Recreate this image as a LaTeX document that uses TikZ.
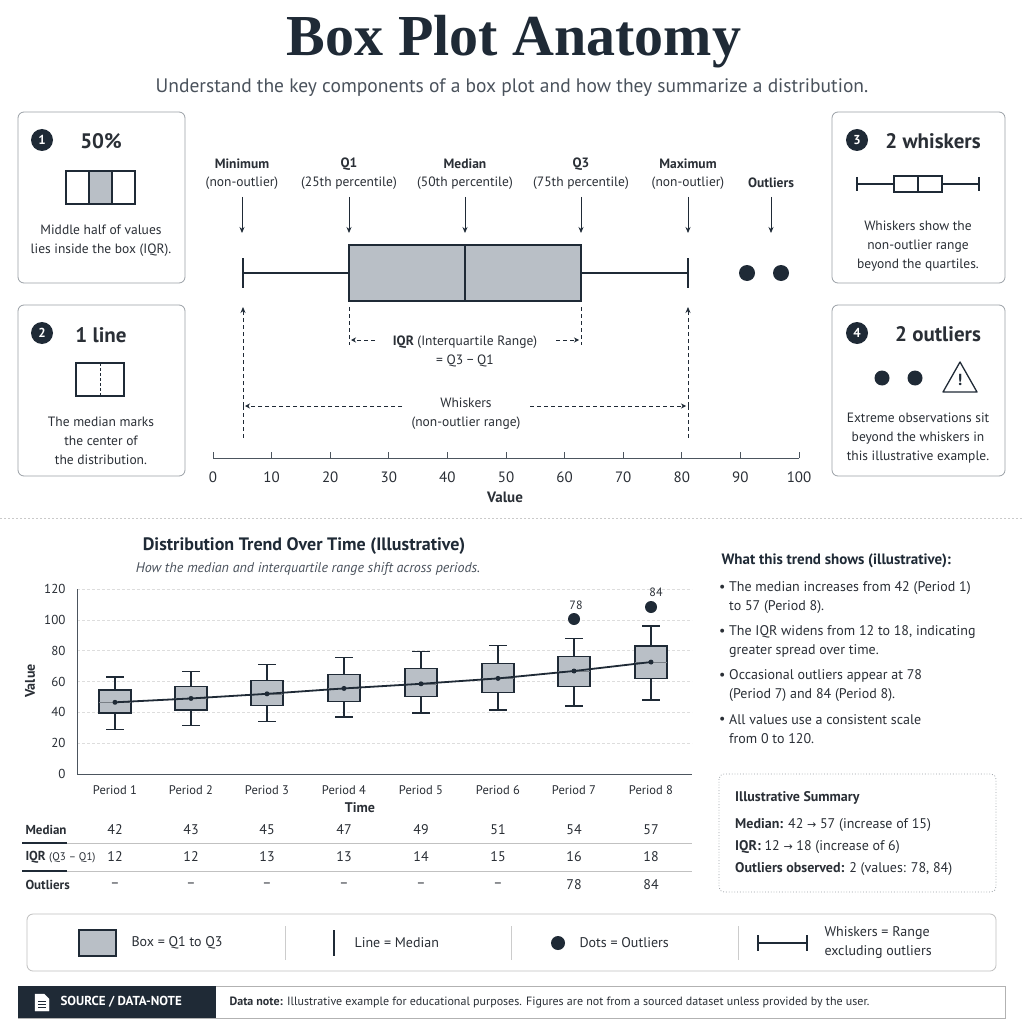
\documentclass[tikz,border=0pt]{standalone}
\usepackage{fontspec}
\setmainfont{PT Sans}
\newfontfamily\titlefont{Liberation Serif}
\newfontfamily\symfont{DejaVu Sans}
\usetikzlibrary{arrows.meta,calc}
\definecolor{navy}{HTML}{1F2A36}
\definecolor{boxg}{HTML}{B9BFC6}
\definecolor{cardb}{HTML}{9AA0A6}
\definecolor{txt}{HTML}{2A2F36}
\definecolor{subt}{HTML}{4A525C}
\definecolor{gridc}{HTML}{DDDDDD}
\newcommand{\fsz}[1]{\fontsize{#1}{#1}\selectfont}
\tikzset{
  card/.style={draw=cardb, rounded corners=6pt, line width=0.8pt},
  numc/.style={circle, fill=navy, text=white, font=\fsz{13}\bfseries, minimum size=22pt, inner sep=0pt},
  lbl/.style={font=\fontsize{13.5}{19}\selectfont, text=txt, align=center, inner sep=1pt},
  blbl/.style={font=\fsz{13.5}\bfseries, text=txt, align=center, inner sep=1pt},
  dk/.style={draw=navy, line width=1.8pt},
  darr/.style={navy, line width=0.8pt, -{Stealth[length=6pt,width=5pt]}},
  dashln/.style={navy, line width=0.8pt, dash pattern=on 4pt off 3pt},
  bpbox/.style={draw=navy, fill=boxg, line width=1.5pt},
}
\begin{document}
\begin{tikzpicture}[x=1pt,y=-1pt]
\useasboundingbox (0,0) rectangle (1024,1024);
\fill[white] (0,0) rectangle (1024,1024);
% title
\node[font=\titlefont\fsz{58}\bfseries, text=navy] (title) at (514,42) {Box Plot Anatomy};
\node[font=\fsz{19.5}, text=subt] (sub) at (512,88) {Understand the key components of a box plot and how they summarize a distribution.};
% cards
\draw[card] (18,112) rectangle (185,283);
\draw[card] (18,305) rectangle (185,476);
\draw[card] (832,112) rectangle (1005,283);
\draw[card] (832,305) rectangle (1005,476);
\node[numc] (n1) at (42,140) {1};
\node[font=\fsz{21}\bfseries, text=txt] (h1) at (101,141) {50\%};
\draw[navy, line width=1.2pt] (66,171) rectangle (135,204);
\draw[navy, line width=1.2pt, fill=boxg] (89,171) rectangle (112,204);
\node[lbl] (t1) at (101,241) {Middle half of values\\lies inside the box (IQR).};
\node[numc] (n2) at (42,333) {2};
\node[font=\fsz{21}\bfseries, text=txt] (h2) at (101,335) {1 line};
\draw[navy, line width=1.2pt] (76,363) rectangle (124,396);
\draw[navy, line width=1pt, dash pattern=on 3pt off 2pt] (100,363) -- (100,396);
\node[lbl] (t2) at (101,441) {The median marks\\the center of\\the distribution.};
\node[numc] (n3) at (857,140) {3};
\node[font=\fsz{21}\bfseries, text=txt] (h3) at (933,141) {2 whiskers};
\draw[navy, line width=1.3pt] (857,184) -- (894,184) (942,184) -- (979,184) (857,177) -- (857,191) (979,177) -- (979,191);
\draw[navy, line width=1.3pt] (894,176) rectangle (942,192) (918,176) -- (918,192);
\node[lbl] (t3) at (918,246) {Whiskers show the\\non-outlier range\\beyond the quartiles.};
\node[numc] (n4) at (857,333) {4};
\node[font=\fsz{21}\bfseries, text=txt] (h4) at (938,334) {2 outliers};
\fill[navy] (882,378) circle (7.5) (915,378) circle (7.5);
\draw[navy, line width=1.3pt, line join=round] (960,362) -- (977,392) -- (943,392) -- cycle;
\node[font=\fsz{16}\bfseries, text=navy] (warn) at (960,380) {!};
\node[lbl] (t4) at (918,438) {Extreme observations sit\\beyond the whiskers in\\this illustrative example.};
% main box plot
\foreach \x/\a/\b/\nm in {242/Minimum/(non-outlier)/mn, 349/Q1/(25th percentile)/q1, 465/Median/(50th percentile)/md, 581/Q3/(75th percentile)/q3, 688/Maximum/(non-outlier)/mx}{
  \node[blbl] (\nm h) at (\x,164) {\a};
  \node[lbl] (\nm s) at (\x,183) {\b};
  \coordinate (\nm a) at (\x,197); \coordinate (\nm b) at (\x,233);
  \draw[darr] (\nm a) -- (\nm b);
}
\node[blbl] (outh) at (771,183) {Outliers};
\coordinate (outa) at (771,197); \coordinate (outb) at (771,233);
\draw[darr] (outa) -- (outb);
\draw[dk] (243,273) -- (349,273) (581,273) -- (688,273) (243,258) -- (243,288) (688,258) -- (688,288);
\draw[bpbox] (349,245) rectangle (581,301);
\draw[dk] (465,245) -- (465,301);
\fill[navy] (747,273) circle (8) (781,273) circle (8);
% dashed annotations
\draw[dashln] (243,406) -- (243,440) (688,406) -- (688,440);
\draw[dashln, -{Stealth[length=6pt,width=5pt]}] (243,406) -- (243,307);
\draw[dashln, -{Stealth[length=6pt,width=5pt]}] (688,406) -- (688,307);
\draw[dashln] (349,307) -- (349,345) (581,307) -- (581,345);
\draw[dashln, -{Stealth[length=5pt,width=5pt]}] (375,340) -- (351,340);
\draw[dashln, -{Stealth[length=5pt,width=5pt]}] (556,340) -- (579,340);
\node[lbl] (iqr) at (465,351) {\textbf{IQR} (Interquartile Range)\\= Q3 − Q1};
\draw[dashln, -{Stealth[length=5pt,width=5pt]}] (402,406) -- (245,406);
\draw[dashln, -{Stealth[length=5pt,width=5pt]}] (530,406) -- (686,406);
\node[lbl] (wh) at (466,414) {Whiskers\\(non-outlier range)};
% axis
\draw[navy!80, line width=0.8pt] (213,458) -- (799,458);
\foreach \v in {0,10,...,100}{
  \draw[navy!80, line width=0.8pt] ({213+5.86*\v},458) -- ({213+5.86*\v},452);
  \node[font=\fsz{15}, text=txt] at ({213+5.86*\v},477) {\v};
}
\node[font=\fsz{15}\bfseries, text=txt] (valx) at (505,497) {Value};
% separator
\draw[gridc!80!gray, line width=0.8pt, dash pattern=on 2pt off 2pt] (0,518) -- (1024,518);
% chart
\node[font=\fsz{18}\bfseries, text=navy] (ct) at (304,546) {Distribution Trend Over Time (Illustrative)};
\node[font=\fsz{14}\itshape, text=subt] (cs) at (308,569) {How the median and interquartile range shift across periods.};
\foreach \v in {20,40,...,120}{
  \draw[gridc, line width=0.6pt, dash pattern=on 3pt off 2pt] (77,{774-1.542*\v}) -- (692,{774-1.542*\v});
}
\foreach \v in {0,20,...,120}{
  \node[font=\fsz{13}, text=txt, anchor=east] at (69,{774-1.542*\v}) {\v};
}
\draw[navy!80, line width=0.9pt] (77,589) -- (77,774) -- (692,774);
\node[font=\fsz{14}\bfseries, text=txt, rotate=90] (yl) at (30,681) {Value};
\node[font=\fsz{14}\bfseries, text=txt] (xl) at (360,808) {Time};
\foreach \i/\x/\wl/\qa/\md/\qb/\wh in {1/115/29/39.5/46.5/54.5/63, 2/191/31.5/41.5/49/57/66.5, 3/267/34/44.5/52/60.5/71, 4/344/37/47/55.5/64.5/75.5, 5/421/39.5/50.5/58.5/68.5/79.5, 6/498/41.5/53/62/71.5/83.5, 7/574/44/57/66.8/76/88, 8/651/48/62/72.6/83/96}{
  \draw[navy, line width=1.4pt] (\x,{774-1.542*\wl}) -- (\x,{774-1.542*\wh});
  \draw[navy, line width=1.4pt] (\x-9,{774-1.542*\wl}) -- (\x+9,{774-1.542*\wl}) (\x-9,{774-1.542*\wh}) -- (\x+9,{774-1.542*\wh});
  \draw[navy, fill=boxg, line width=1.2pt] (\x-16,{774-1.542*\qa}) rectangle (\x+16,{774-1.542*\qb});
  \coordinate (m\i) at (\x,{774-1.542*\md});
  \draw[navy!60, line width=0.6pt] (\x-16,{774-1.542*\md}) -- (\x+16,{774-1.542*\md});
  \node[font=\fsz{12.5}, text=txt] (p\i) at (\x,790) {Period \i};
}
\draw[navy, line width=1.8pt] (m1) -- (m2) -- (m3) -- (m4) -- (m5) -- (m6) -- (m7) -- (m8);
\foreach \i in {1,...,8} \fill[navy] (m\i) circle (2.5);
\fill[navy] (574,619) circle (6) (651,607) circle (6);
\node[font=\fsz{12}, text=txt] (o7) at (576,605) {78};
\node[font=\fsz{12}, text=txt] (o8) at (656,592) {84};
% table
\node[font=\fsz{13}\bfseries, text=txt, anchor=west] at (22,830) {Median};
\node[font=\fsz{13}, text=txt, anchor=west] at (22,857) {\textbf{IQR} {\fsz{11}(Q3 – Q1)}};
\node[font=\fsz{13}\bfseries, text=txt, anchor=west] at (22,885) {Outliers};
\draw[gridc!70!gray, line width=1pt] (22,843) -- (692,843) (22,871) -- (692,871);
\draw[navy, line width=1.2pt] (22,843) -- (67,843) (22,871) -- (67,871);
\foreach \x/\a/\b/\c in {115/42/12/–, 191/43/12/–, 267/45/13/–, 344/47/13/–, 421/49/14/–, 498/51/15/–, 574/54/16/78, 651/57/18/84}{
  \node[font=\fsz{14}, text=txt] at (\x,830) {\a};
  \node[font=\fsz{14}, text=txt] at (\x,857) {\b};
  \node[font=\fsz{14}, text=txt] at (\x,885) {\c};
}
% right text
\node[font=\fsz{15}\bfseries, text=navy, anchor=west] (wt) at (718,561) {What this trend shows (illustrative):};
\foreach \y/\a/\b in {588/The median increases from 42 (Period 1)/to 57 (Period 8)., 632/The IQR widens from 12 to 18{,} indicating/greater spread over time., 676/Occasional outliers appear at 78/(Period 7) and 84 (Period 8)., 720/All values use a consistent scale/from 0 to 120.}{
  \node[font=\fsz{14}, text=txt, anchor=west, inner sep=0] at (719,\y) {•};
  \node[font=\fsz{14}, text=txt, anchor=west, inner sep=0] at (729,\y) {\a};
  \node[font=\fsz{14}, text=txt, anchor=west, inner sep=0] at (729,\y+19) {\b};
}
\draw[cardb, line width=0.8pt, dotted, rounded corners=5pt] (719,774) rectangle (996,892);
\node[font=\fsz{14}\bfseries, text=txt, anchor=west, inner sep=0] (st) at (735,798) {Illustrative Summary};
\node[font=\fsz{14}, text=txt, anchor=west, inner sep=0] at (735,825) {\textbf{Median:} 42 {\symfont\fsz{11}→} 57 (increase of 15)};
\node[font=\fsz{14}, text=txt, anchor=west, inner sep=0] at (735,847) {\textbf{IQR:} 12 {\symfont\fsz{11}→} 18 (increase of 6)};
\node[font=\fsz{14}, text=txt, anchor=west, inner sep=0] at (735,869) {\textbf{Outliers observed:} 2 (values: 78, 84)};
% legend
\draw[card, draw=gray!50] (27,914) rectangle (996,971);
\draw[gray!40, line width=0.8pt] (285,926) -- (285,960) (511,926) -- (511,960) (738,926) -- (738,960);
\draw[navy, fill=boxg, line width=1.2pt] (79,930) rectangle (116,956);
\node[font=\fsz{14}, text=txt, anchor=west] at (128,943) {Box = Q1 to Q3};
\draw[navy, line width=1.8pt] (334,930) -- (334,956);
\node[font=\fsz{14}, text=txt, anchor=west] at (351,943) {Line = Median};
\fill[navy] (558,943) circle (7);
\node[font=\fsz{14}, text=txt, anchor=west] at (576,943) {Dots = Outliers};
\draw[navy, line width=1.6pt] (758,943) -- (807,943) (758,935) -- (758,951) (807,935) -- (807,951);
\node[font=\fontsize{14}{19}\selectfont, text=txt, anchor=west, align=left] at (821,943) {Whiskers = Range\\excluding outliers};
% source bar
\draw[gray!60, line width=0.8pt] (18,986) rectangle (1005,1018);
\fill[navy] (18,986) rectangle (216,1018);
\draw[white, fill=white] (35,994) -- (44,994) -- (49,999) -- (49,1011) -- (35,1011) -- cycle;
\draw[navy, line width=0.9pt] (38,1001) -- (46,1001) (38,1004) -- (46,1004) (38,1007) -- (46,1007);
\node[font=\fsz{13}\bfseries, text=white, anchor=west] at (57,1002) {SOURCE / DATA-NOTE};
\node[font=\fsz{12}, text=txt, anchor=west] at (226,1002) {\textbf{Data note:} Illustrative example for educational purposes. Figures are not from a sourced dataset unless provided by the user.};
\end{tikzpicture}
\end{document}
